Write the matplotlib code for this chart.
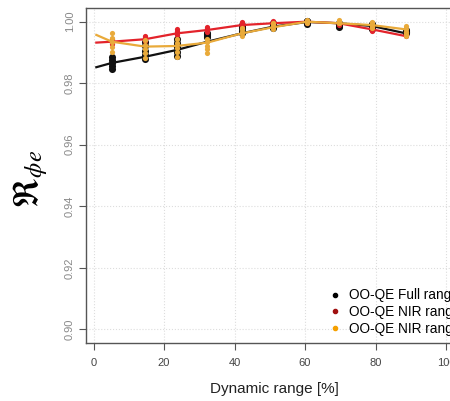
import numpy as np
import matplotlib.pyplot as plt
from matplotlib.lines import Line2D

plt.rcParams['font.family'] = ['Liberation Sans', 'DejaVu Sans']

# cluster positions (% of dynamic range)
pos = [5.2, 14.6, 23.6, 32.3, 42.0, 51.0, 60.5, 69.5, 79.0, 88.6]

full_pts = [
    [0.9845, 0.9855, 0.9865, 0.9875, 0.9884],
    [0.9878, 0.9892, 0.9906, 0.9920, 0.9933],
    [0.9887, 0.9902, 0.9917, 0.9932, 0.9945],
    [0.9950, 0.9954, 0.9958, 0.9961, 0.9963],
    [0.9964, 0.9971, 0.9978, 0.9984, 0.9988],
    [0.9980, 0.9984, 0.9988, 0.9992, 0.9995],
    [0.9994, 0.9997, 1.0000, 1.0001, 1.0002],
    [0.9983, 0.9987, 0.9991, 0.9994, 0.9996],
    [0.9975, 0.9980, 0.9985, 0.9989, 0.9993],
    [0.9962, 0.9965, 0.9968, 0.9970, 0.9972],
]
nir_pts = [
    [0.9928, 0.9932, 0.9936, 0.9940, 0.9944],
    [0.9936, 0.9941, 0.9946, 0.9950, 0.9954],
    [0.9957, 0.9962, 0.9967, 0.9971, 0.9975],
    [0.9968, 0.9972, 0.9976, 0.9979, 0.9982],
    [0.9983, 0.9987, 0.9991, 0.9995, 0.9998],
    [0.9992, 0.9995, 0.9998, 1.0000, 1.0002],
    [0.9996, 0.9998, 1.0000, 1.0002, 1.0003],
    [0.9990, 0.9993, 0.9996, 0.9998, 1.0000],
    [0.9970, 0.9974, 0.9978, 0.9982, 0.9986],
    [0.9952, 0.9956, 0.9960, 0.9964, 0.9968],
]
nir2_pts = [
    [0.9903, 0.9918, 0.9933, 0.9948, 0.9962],
    [0.9883, 0.9897, 0.9911, 0.9925, 0.9939],
    [0.9886, 0.9901, 0.9916, 0.9931, 0.9945],
    [0.9898, 0.9910, 0.9922, 0.9934, 0.9945],
    [0.9955, 0.9962, 0.9968, 0.9975, 0.9981],
    [0.9976, 0.9982, 0.9987, 0.9992, 0.9997],
    [0.9996, 0.9998, 1.0000, 1.0002, 1.0004],
    [0.9995, 0.9997, 0.9999, 1.0002, 1.0004],
    [0.9978, 0.9983, 0.9988, 0.9993, 0.9998],
    [0.9952, 0.9960, 0.9968, 0.9977, 0.9985],
]

# fitted curves
fit_x = [0.8, 5.2, 14.6, 23.6, 32.3, 42.0, 51.0, 60.5, 69.5, 79.0, 88.6]
full_fit = [0.9852, 0.9866, 0.9886, 0.9908, 0.9935, 0.9962, 0.9984, 0.9999, 0.9995, 0.9986, 0.9962]
nir_fit = [0.9932, 0.9935, 0.9943, 0.9962, 0.9973, 0.9989, 0.9995, 1.0000, 0.9995, 0.9975, 0.9953]
nir2_fit = [0.9957, 0.9935, 0.9919, 0.9921, 0.9932, 0.9962, 0.9982, 1.0000, 0.9995, 0.9989, 0.9975]

labels = ['OO-QE Full range', 'OO-QE NIR range', 'OO-QE NIR range']
line_cols = ['#111111', '#E3232B', '#E9AA3A']
dot_cols = ['#000000', '#A01010', '#F5A000']

fig = plt.figure(figsize=(4.5, 4.01), dpi=100)
ax = fig.add_axes([86/450, 58.3/401, 377/450, 334.7/401])

series = [(full_pts, full_fit), (nir_pts, nir_fit), (nir2_pts, nir2_fit)]
for i, (pts, fit) in enumerate(series):
    xs = np.repeat(pos, [len(p) for p in pts])
    ys = np.concatenate(pts)
    ax.scatter(xs, ys, s=26 if i == 0 else 14, color=line_cols[i], zorder=3 + i, lw=0)
    ax.plot(fit_x, fit, color=line_cols[i], lw=1.6, zorder=3 + i)

ax.set_xlim(-2.13, 104.8)
ax.set_ylim(0.89565, 1.00445)
ax.set_xticks([0, 20, 40, 60, 80, 100])
ax.set_yticks([0.90, 0.92, 0.94, 0.96, 0.98, 1.00])
ax.set_yticklabels(['0.90', '0.92', '0.94', '0.96', '0.98', '1.00'],
                   rotation=90, va='center')
ax.grid(True, color='#DDDDDD', ls=':', lw=0.8)
ax.set_axisbelow(True)
for s in ax.spines.values():
    s.set_color('#555555')
    s.set_linewidth(1.0)
ax.tick_params(colors='#555555', labelsize=8, length=5, width=0.8)
ax.tick_params(axis='y', labelcolor='#888888', pad=3)
ax.tick_params(axis='x', labelcolor='#444444', pad=6)

ax.set_xlabel('Dynamic range [%]', fontsize=11, color='#222222', labelpad=10)
ax.set_ylabel(r'$\mathfrak{R}_{\phi e}$', fontsize=25, math_fontfamily='stix')
ax.yaxis.set_label_coords(-0.095, 0.49)

handles = [Line2D([], [], ls='', marker='o', ms=3, color=c) for c in dot_cols]
ax.legend(handles, labels, loc='upper left', bbox_to_anchor=(323/450, 118/401),
          bbox_transform=fig.transFigure, frameon=False, fontsize=9.8,
          handlelength=1.0, handletextpad=0.5, labelspacing=0.2, borderaxespad=0)

fig.savefig('out.png', dpi=100)
